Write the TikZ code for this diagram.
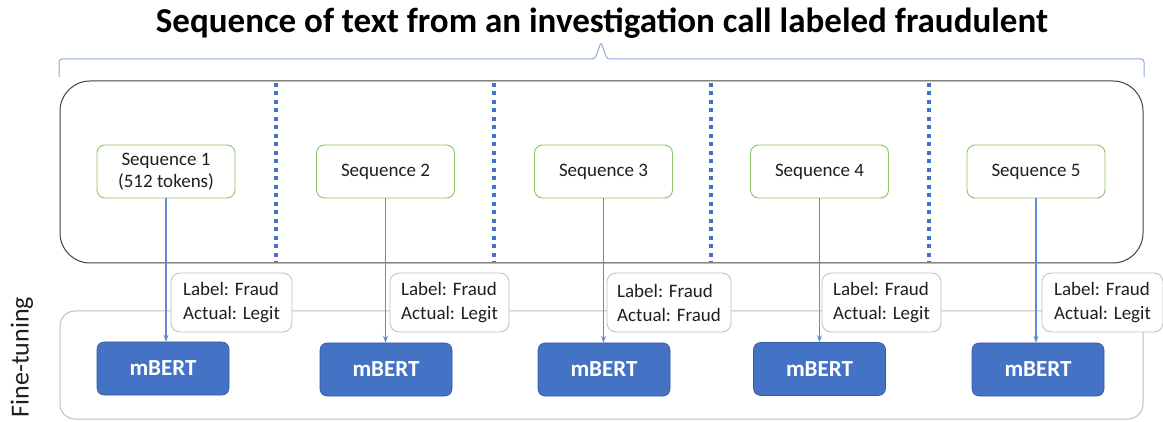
\documentclass[tikz,border=0pt]{standalone}
\usepackage{fontspec}
\setmainfont{Carlito}
\usetikzlibrary{arrows.meta}
\definecolor{mblue}{HTML}{4472C4}
\definecolor{lblue}{HTML}{8FAADC}
\definecolor{ablue}{HTML}{5F8AD6}
\definecolor{sgreen}{HTML}{8CC46A}
\definecolor{lgray}{HTML}{BFBFBF}
\definecolor{dgray}{HTML}{404040}
\tikzset{
  seqbox/.style={draw=sgreen, line width=0.9pt, rounded corners=8pt, fill=white, minimum width=138pt, minimum height=53pt, align=center, font=\fontsize{19}{22}\selectfont, text=black!88, inner sep=0pt},
  mbox/.style={draw=mblue!80!black, line width=0.6pt, fill=mblue, rounded corners=7pt, minimum width=132pt, minimum height=53pt, font=\bfseries\fontsize{23}{26}\selectfont, text=white},
  lbox/.style={draw=lgray, line width=0.8pt, fill=white, rounded corners=9pt, minimum height=59pt, align=left, font=\fontsize{19}{24}\selectfont, text=black!88, inner sep=0pt},
  dots/.style={draw=mblue, line width=3.6pt, dash pattern=on 3.6pt off 4.9pt},
  conn/.style={draw=ablue, line width=1.1pt, -{Stealth[length=7pt,width=5pt]}},
}
\begin{document}
\begin{tikzpicture}[x=1pt,y=-1pt]
\useasboundingbox (0,0) rectangle (1163,422);
% title
\node[font=\bfseries\fontsize{35}{40}\selectfont] (title) at (602,23) {Sequence of text from an investigation call labeled fraudulent};
% brace
\draw[lblue, line width=1pt, rounded corners=3pt] (59,77) -- (59,59) -- (595,59) -- (601,42) -- (607,59) -- (1144,59) -- (1144,77);
% top container
\node[draw=dgray, line width=1pt, rounded corners=30pt, minimum width=1083pt, minimum height=182pt] (top) at (601.5,172) {};
% bottom container
\node[draw=lgray, line width=1pt, rounded corners=15pt, minimum width=1083pt, minimum height=108pt] (bot) at (601.5,365) {};
% dotted separators
\foreach \x/\n in {276/d1,494/d2,711/d3,929/d4} {
  \coordinate (\n a) at (\x,83);
  \coordinate (\n b) at (\x,262);
  \draw[dots] (\n a) -- (\n b);
}
% sequences
\node[seqbox] (s1) at (166,171.5) {Sequence 1\\(512 tokens)};
\node[seqbox] (s2) at (385.5,171.5) {Sequence 2};
\node[seqbox] (s3) at (603.5,171.5) {Sequence 3};
\node[seqbox] (s4) at (819.5,171.5) {Sequence 4};
\node[seqbox] (s5) at (1036,171.5) {Sequence 5};
% mBERT
\node[mbox] (m1) at (163,368.5) {mBERT};
\node[mbox] (m2) at (386,369.5) {mBERT};
\node[mbox] (m3) at (604,369.5) {mBERT};
\node[mbox] (m4) at (819.5,369) {mBERT};
\node[mbox] (m5) at (1038,369.5) {mBERT};
% arrows
\foreach \i in {1,...,5} {
  \draw[conn] (s\i.south) -- (s\i.south |- m\i.north);
}
% labels
\node[lbox, minimum width=121pt] (l1) at (231.5,302.5) {Label: Fraud\\Actual: Legit};
\node[lbox, minimum width=119pt] (l2) at (449.5,302.5) {Label: Fraud\\Actual: Legit};
\node[lbox, minimum width=124pt] (l3) at (669,302.5) {Label: Fraud\\Actual: Fraud};
\node[lbox, minimum width=119pt] (l4) at (881.5,302.5) {Label: Fraud\\Actual: Legit};
\node[lbox, minimum width=121pt] (l5) at (1102.5,302.5) {Label: Fraud\\Actual: Legit};
% side label
\node[rotate=90, font=\fontsize{26}{30}\selectfont, text=black!88] (ft) at (22,357) {Fine-tuning};
\end{tikzpicture}
\end{document}
